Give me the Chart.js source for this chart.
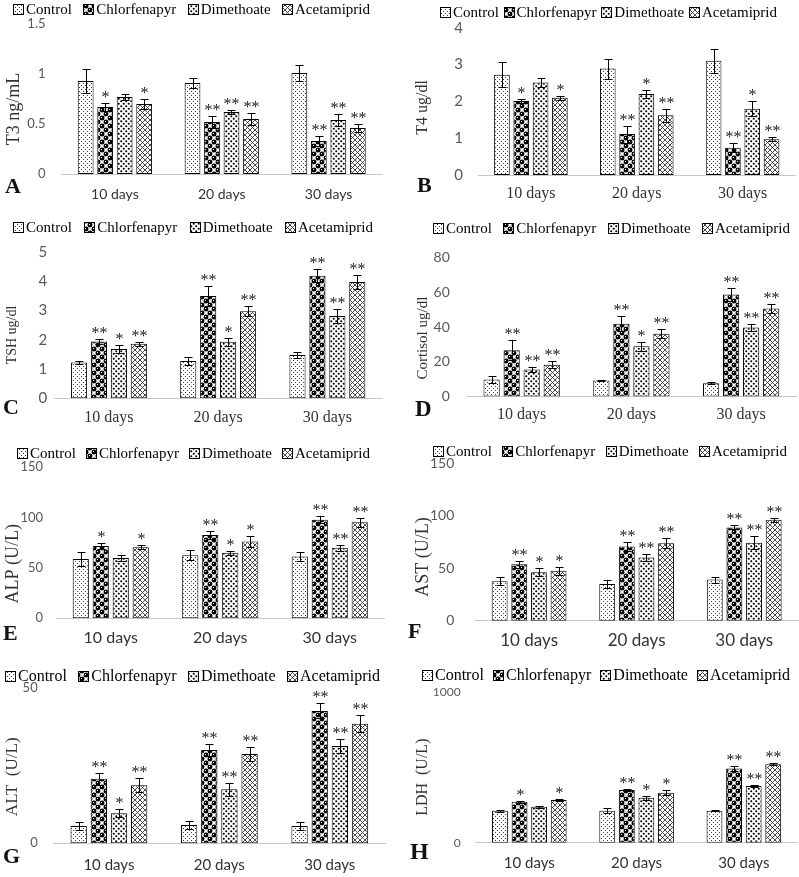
<!DOCTYPE html>
<html><head><meta charset="utf-8">
<script src="https://cdn.jsdelivr.net/npm/chart.js@4.4.1/dist/chart.umd.min.js"></script>
<style>
html,body{margin:0;padding:0;background:#fff;}
#wrap{position:relative;width:799px;height:877px;overflow:hidden;background:#fff;}
.cell{position:absolute;}
.cell canvas{display:block;}
</style></head><body><div id="wrap"></div>
<script>
// ---------- DATA ----------
const days = ['10 days', '20 days', '30 days'];
const treatments = ['Control', 'Chlorfenapyr', 'Dimethoate', 'Acetamiprid'];

// rows: Control, Chlorfenapyr, Dimethoate, Acetamiprid ; columns: 10, 20, 30 days
const t3Mean = [[0.93, 0.91, 1.01], [0.67, 0.52, 0.33], [0.77, 0.62, 0.54], [0.70, 0.55, 0.46]];
const t3Err  = [[0.12, 0.05, 0.08], [0.04, 0.06, 0.05], [0.03, 0.02, 0.06], [0.05, 0.06, 0.04]];
const t3Sig  = [['', '', ''], ['*', '**', '**'], ['', '**', '**'], ['*', '**', '**']];

const t4Mean = [[2.72, 2.89, 3.10], [2.01, 1.11, 0.74], [2.51, 2.20, 1.80], [2.10, 1.62, 0.97]];
const t4Err  = [[0.34, 0.27, 0.33], [0.06, 0.23, 0.12], [0.13, 0.10, 0.20], [0.05, 0.17, 0.06]];
const t4Sig  = [['', '', ''], ['*', '**', '**'], ['', '*', '*'], ['*', '**', '**']];

const tshMean = [[1.22, 1.27, 1.48], [1.94, 3.49, 4.18], [1.68, 1.93, 2.81], [1.86, 2.97, 3.97]];
const tshErr  = [[0.06, 0.15, 0.11], [0.08, 0.34, 0.22], [0.13, 0.13, 0.25], [0.07, 0.18, 0.25]];
const tshSig  = [['', '', ''], ['**', '**', '**'], ['*', '*', '**'], ['**', '**', '**']];

const cortisolMean = [[9.8, 9.2, 7.7], [26.6, 42.0, 58.8], [15.6, 28.9, 39.7], [18.3, 36.2, 50.7]];
const cortisolErr  = [[2.0, 0.4, 0.6], [5.8, 4.2, 4.0], [1.4, 2.5, 2.1], [2.1, 2.5, 2.7]];
const cortisolSig  = [['', '', ''], ['**', '**', '**'], ['**', '*', '**'], ['**', '**', '**']];

const alpMean = [[59, 62.7, 61.3], [71.7, 82.7, 98], [60, 65, 70], [70.7, 76.3, 95.3]];
const alpErr  = [[7, 4.7, 4.7], [3, 3.7, 3.3], [3.3, 2.3, 3.3], [2, 5, 4.7]];
const alpSig  = [['', '', ''], ['*', '**', '**'], ['', '*', '**'], ['*', '*', '**']];

const astMean = [[37.6, 35, 39.2], [53.8, 70.7, 88.9], [46.2, 60.2, 74.2], [47.5, 73.9, 96.2]];
const astErr  = [[3.8, 3.9, 2.8], [3.2, 4.5, 1.9], [3.8, 3.2, 6.1], [3.5, 4.8, 1.9]];
const astSig  = [['', '', ''], ['**', '**', '**'], ['*', '**', '**'], ['*', '**', '**']];

const altMean = [[5.6, 5.9, 5.6], [20.8, 30.1, 42.7], [9.7, 17.4, 31.4], [18.7, 28.8, 38.6]];
const altErr  = [[1.2, 1.3, 1.2], [1.9, 1.9, 2.4], [1.3, 2.1, 2.4], [2.3, 2.4, 2.8]];
const altSig  = [['', '', ''], ['**', '**', '**'], ['*', '**', '**'], ['**', '**', '**']];

const ldhMean = [[212, 212, 212], [272, 349, 492], [238, 298, 375], [283, 331, 519]];
const ldhErr  = [[7, 15, 2], [6, 6, 14], [7, 13, 9], [8, 16, 6]];
const ldhSig  = [['', '', ''], ['*', '**', '**'], ['', '*', '**'], ['*', '*', '**']];

// ---------- STYLE / LAYOUT ----------
const SERIF = '"Liberation Serif", "Times New Roman", serif';
const SANS = 'Lato, "Liberation Sans", sans-serif';
const EXTRA_H = 16; // canvases overhang their cell a little so bottom labels are never clipped

const panels = [
  {key:'A', x:0, y:0, w:400, h:215, mean:t3Mean, err:t3Err, sig:t3Sig, yTitle:'T3 ng/mL', yMax:1.5, yStep:0.5,
   area:{top:24, bottom:174, left:61.5, right:382}, legend:{y:9, x0:13, x1:370, size:15},
   tick:{size:13, gap:16}, xLab:{family:SANS, size:14, y:194.5}, title:{x:14, dy:10, size:18}, letter:{x:5, y:187, size:22}},
  {key:'B', x:400, y:0, w:399, h:215, mean:t4Mean, err:t4Err, sig:t4Sig, yTitle:'T4 ug/dl', yMax:4, yStep:1,
   area:{top:27.7, bottom:175, left:78, right:395.5}, legend:{y:11.7, x0:40, x1:377, size:15},
   tick:{size:15, gap:15}, xLab:{family:SERIF, size:16, y:193.3}, title:{x:23, dy:6, size:16}, letter:{x:17, y:186, size:22}},
  {key:'C', x:0, y:215, w:400, h:215, mean:tshMean, err:tshErr, sig:tshSig, yTitle:'TSH ug/dl', yMax:5, yStep:1,
   area:{top:36.7, bottom:183.3, left:54.3, right:382}, legend:{y:11.7, x0:13, x1:373, size:15},
   tick:{size:15, gap:7}, xLab:{family:SERIF, size:16, y:202.3}, title:{x:12, dy:10, size:14}, letter:{x:3, y:193, size:22}},
  {key:'D', x:400, y:215, w:399, h:215, mean:cortisolMean, err:cortisolErr, sig:cortisolSig, yTitle:'Cortisol ug/dl', yMax:80, yStep:20,
   area:{top:42.7, bottom:181.5, left:66.8, right:396}, legend:{y:13.3, x0:33, x1:390, size:15},
   tick:{size:14, gap:17}, xLab:{family:SERIF, size:16, y:200}, title:{x:23, dy:11, size:15}, letter:{x:15, y:195, size:23}},
  {key:'E', x:0, y:430, w:400, h:215, mean:alpMean, err:alpErr, sig:alpSig, yTitle:'ALP (U/L)', yMax:150, yStep:50,
   area:{top:37.3, bottom:188.3, left:56, right:384.5}, legend:{y:22.7, x0:17, x1:370, size:15},
   tick:{size:13, gap:13}, xLab:{family:SANS, size:16, y:208}, title:{x:13, dy:21, size:18}, letter:{x:3, y:204, size:22}},
  {key:'F', x:400, y:430, w:399, h:215, mean:astMean, err:astErr, sig:astSig, yTitle:'AST (U/L)', yMax:150, yStep:50,
   area:{top:33.3, bottom:190.7, left:75.3, right:398}, legend:{y:20.7, x0:33, x1:387, size:15},
   tick:{size:14, gap:21}, xLab:{family:SANS, size:17, y:210.7}, title:{x:23, dy:15, size:18}, letter:{x:8, y:202, size:22}},
  {key:'G', x:0, y:645, w:400, h:232, mean:altMean, err:altErr, sig:altSig, yTitle:'ALT  (U/L)', yMax:50, yStep:50,
   area:{top:43.3, bottom:198.3, left:53.7, right:385}, legend:{y:30.7, x0:5, x1:380, size:16},
   tick:{size:13, gap:16}, xLab:{family:SANS, size:15, y:220}, title:{x:13, dy:11, size:17}, letter:{x:3, y:212, size:22}},
  {key:'H', x:400, y:645, w:399, h:232, mean:ldhMean, err:ldhErr, sig:ldhSig, yTitle:'LDH  (U/L)', yMax:1000, yStep:1000,
   area:{top:46.7, bottom:197.7, left:75.7, right:397.5}, legend:{y:30, x0:22, x1:390, size:16},
   tick:{size:12, gap:15}, xLab:{family:SANS, size:15, y:218}, title:{x:23, dy:10, size:16}, letter:{x:10, y:208, size:24}}
];

// ---------- PATTERNS ----------
function makePattern(kind) {
  const c = document.createElement('canvas');
  const s = {control:4, chlor:8, dim:5, acet:5}[kind];
  c.width = s; c.height = s;
  const g = c.getContext('2d');
  g.fillStyle = '#fff'; g.fillRect(0, 0, s, s);
  const dot = (cx, cy, r, col) => {
    g.fillStyle = col;
    for (const ox of [-s, 0, s]) for (const oy of [-s, 0, s]) {
      g.beginPath(); g.arc(cx + ox, cy + oy, r, 0, Math.PI * 2); g.fill();
    }
  };
  if (kind === 'control') {
    g.fillStyle = '#3a3a3a';
    g.fillRect(1, 1, 1, 1); g.fillRect(3, 3, 1, 1);
  } else if (kind === 'chlor') {
    dot(2, 2, 2.45, '#000'); dot(6, 6, 2.45, '#000');
    g.fillStyle = '#fff';
    g.fillRect(1, 1, 1, 1); g.fillRect(5, 5, 1, 1);
  } else if (kind === 'dim') {
    dot(1.25, 1.25, 1.05, '#000'); dot(3.75, 3.75, 1.05, '#000');
  } else if (kind === 'acet') {
    g.strokeStyle = '#2a2a2a'; g.lineWidth = 0.85;
    g.beginPath();
    for (const o of [-s, 0, s]) {
      g.moveTo(o, 0); g.lineTo(o + s, s);
      g.moveTo(o, s); g.lineTo(o + s, 0);
    }
    g.stroke();
  }
  return g.createPattern(c, 'repeat');
}

// ---------- PLUGINS ----------
const decorPlugin = {
  id: 'decor',
  afterDatasetsDraw(chart) {
    const ctx = chart.ctx;
    const ys = chart.scales.y;
    chart.data.datasets.forEach((ds, i) => {
      const meta = chart.getDatasetMeta(i);
      meta.data.forEach((bar, j) => {
        const v = ds.data[j], e = ds.errors[j];
        const yHi = Math.round(ys.getPixelForValue(v + e)) + 0.5;
        const yLo = Math.round(ys.getPixelForValue(v - e)) + 0.5;
        const x = Math.round(bar.x) + 0.5;
        ctx.save();
        ctx.strokeStyle = '#000'; ctx.lineWidth = 1;
        ctx.beginPath();
        ctx.moveTo(x, yLo); ctx.lineTo(x, yHi);
        ctx.moveTo(x - 4, yHi); ctx.lineTo(x + 4, yHi);
        ctx.moveTo(x - 4, yLo); ctx.lineTo(x + 4, yLo);
        ctx.stroke();
        const s = ds.sig[j];
        if (s) {
          ctx.fillStyle = '#222';
          ctx.font = '16px ' + SERIF;
          ctx.textAlign = 'center'; ctx.textBaseline = 'alphabetic';
          ctx.fillText(s, x, yHi - 2);
        }
        ctx.restore();
      });
    });
  },
  afterDraw(chart) {
    const o = chart.options.plugins.decor;
    const ctx = chart.ctx;
    const area = chart.chartArea;
    ctx.save();
    // legend
    ctx.font = o.legend.size + 'px ' + SERIF;
    const dss = chart.data.datasets;
    const box = 10, bt = 3;
    const widths = dss.map(d => ctx.measureText(d.label).width);
    const total = widths.reduce((a, b) => a + b, 0) + dss.length * (box + bt);
    const gap = (o.legend.x1 - o.legend.x0 - total) / (dss.length - 1);
    let lx = o.legend.x0;
    dss.forEach((d, i) => {
      const by = Math.round(o.legend.y - box / 2) + 0.5;
      const bx = Math.round(lx) + 0.5;
      ctx.fillStyle = d.backgroundColor;
      ctx.fillRect(bx, by, box, box);
      ctx.strokeStyle = '#000'; ctx.lineWidth = 1;
      ctx.strokeRect(bx, by, box, box);
      ctx.fillStyle = '#000';
      ctx.textAlign = 'left'; ctx.textBaseline = 'middle';
      ctx.fillText(d.label, lx + box + bt, o.legend.y + 1);
      lx += box + bt + widths[i] + gap;
    });
    // y title
    ctx.save();
    ctx.translate(o.title.x, (area.top + area.bottom) / 2 + o.title.dy);
    ctx.rotate(-Math.PI / 2);
    ctx.font = o.title.size + 'px ' + SERIF;
    ctx.fillStyle = '#333';
    ctx.textAlign = 'center'; ctx.textBaseline = 'middle';
    ctx.fillText(o.title.text, 0, 0);
    ctx.restore();
    // panel letter
    ctx.font = 'bold ' + o.letter.size + 'px ' + SERIF;
    ctx.fillStyle = '#111';
    ctx.textAlign = 'left'; ctx.textBaseline = 'middle';
    ctx.fillText(o.letter.text, o.letter.x, o.letter.y);
    ctx.restore();
  }
};

// ---------- BUILD ----------
const patterns = [makePattern('control'), makePattern('chlor'), makePattern('dim'), makePattern('acet')];
const wrap = document.getElementById('wrap');

panels.forEach(p => {
  const H = p.h + EXTRA_H;
  const div = document.createElement('div');
  div.className = 'cell';
  div.style.left = p.x + 'px'; div.style.top = p.y + 'px';
  div.style.width = p.w + 'px'; div.style.height = H + 'px';
  const cv = document.createElement('canvas');
  cv.width = p.w; cv.height = H;
  cv.style.width = p.w + 'px'; cv.style.height = H + 'px';
  div.appendChild(cv);
  wrap.appendChild(div);

  const datasets = treatments.map((name, i) => ({
    label: name,
    data: p.mean[i],
    errors: p.err[i],
    sig: p.sig[i],
    backgroundColor: patterns[i],
    borderColor: '#000',
    borderWidth: 1,
    borderSkipped: false,
    categoryPercentage: 0.73,
    barPercentage: 0.81
  }));

  const xh = H - p.area.bottom;
  new Chart(cv, {
    type: 'bar',
    data: { labels: days, datasets },
    plugins: [decorPlugin],
    options: {
      responsive: false,
      animation: false,
      devicePixelRatio: 1,
      events: [],
      layout: { padding: { top: p.area.top, left: 0, right: p.w - p.area.right, bottom: 0 } },
      plugins: {
        legend: { display: false },
        tooltip: { enabled: false },
        decor: {
          legend: p.legend,
          title: { text: p.yTitle, x: p.title.x, dy: p.title.dy, size: p.title.size },
          letter: { text: p.key, x: p.letter.x, y: p.letter.y, size: p.letter.size }
        }
      },
      scales: {
        x: {
          offset: true,
          grid: { display: false, drawTicks: false },
          border: { display: true, color: '#c9c9c9', width: 1 },
          ticks: {
            color: '#333',
            font: { family: p.xLab.family, size: p.xLab.size },
            padding: p.xLab.y - p.area.bottom - p.xLab.size * 0.6,
            maxRotation: 0, autoSkip: false
          },
          afterFit: s => { s.height = xh; }
        },
        y: {
          min: 0, max: p.yMax,
          grid: { display: false, drawTicks: false },
          border: { display: false },
          ticks: {
            stepSize: p.yStep,
            color: '#595959',
            font: { family: SANS, size: p.tick.size },
            padding: p.tick.gap,
            callback: v => String(v)
          },
          afterFit: s => { s.width = p.area.left; }
        }
      }
    }
  });
});
</script>
</body></html>
